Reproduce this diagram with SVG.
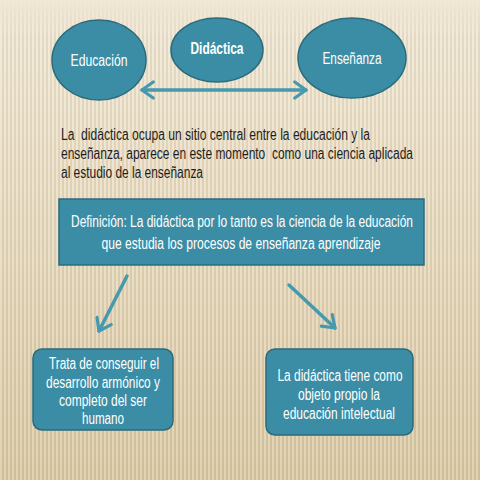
<svg xmlns="http://www.w3.org/2000/svg" width="480" height="480" viewBox="0 0 480 480">
<defs>
<linearGradient id="bg" x1="0" y1="0" x2="0" y2="1">
<stop offset="0" stop-color="#f0e7d5"/>
<stop offset="0.4" stop-color="#e8dbc0"/>
<stop offset="1" stop-color="#d8c6a0"/>
</linearGradient>
<pattern id="stripes" width="4" height="480" patternUnits="userSpaceOnUse">
<rect x="0" y="0" width="2" height="480" fill="#fff" opacity="0.22"/>
<rect x="2" y="0" width="2" height="480" fill="#8a7450" opacity="0.1"/>
</pattern>
<linearGradient id="fade" x1="0" y1="0" x2="0" y2="1">
<stop offset="0" stop-color="#fff" stop-opacity="0"/>
<stop offset="0.08" stop-color="#fff" stop-opacity="1"/>
<stop offset="1" stop-color="#fff" stop-opacity="1"/>
</linearGradient>
<mask id="m"><rect width="480" height="480" fill="url(#fade)"/></mask>
<marker id="head" viewBox="0 0 12 12" refX="9" refY="6" markerWidth="5.5" markerHeight="5.5" orient="auto-start-reverse" markerUnits="strokeWidth">
<path d="M2,1 L9,6 L2,11" fill="none" stroke="#4799ad" stroke-width="2" stroke-linecap="round" stroke-linejoin="round"/>
</marker>
<style>
.node{fill:#3b8da5;stroke:#2b6b7c;stroke-width:1.5}
.t{font-family:"Liberation Sans",Arial,sans-serif;fill:#fff;text-anchor:middle;font-size:16px}
.p{font-family:"Liberation Sans",Arial,sans-serif;fill:#1e1e1e;font-size:16px}
.conn{stroke:#4799ad;stroke-width:3.5;fill:none;stroke-linecap:round}
</style>
</defs>
<rect width="480" height="480" fill="url(#bg)"/>
<rect width="480" height="480" fill="url(#stripes)" mask="url(#m)"/>

<g id="connectors">
<line class="conn" x1="142" y1="90" x2="306" y2="90" marker-start="url(#head)" marker-end="url(#head)"/>
<line class="conn" x1="127" y1="276" x2="99" y2="331" marker-end="url(#head)"/>
<line class="conn" x1="289" y1="285" x2="335" y2="328" marker-end="url(#head)"/>
</g>

<g id="educacion">
<ellipse class="node" cx="99" cy="60" rx="47" ry="40"/>
<text class="t" x="99" y="66" textLength="57" lengthAdjust="spacingAndGlyphs">Educación</text>
</g>
<g id="didactica">
<ellipse class="node" cx="217" cy="50" rx="46" ry="32"/>
<text class="t" x="217" y="54" font-weight="bold" textLength="53" lengthAdjust="spacingAndGlyphs">Didáctica</text>
</g>
<g id="ensenanza">
<ellipse class="node" cx="352" cy="58" rx="54" ry="40"/>
<text class="t" x="352" y="64" textLength="59" lengthAdjust="spacingAndGlyphs">Enseñanza</text>
</g>

<g id="parrafo">
<text class="p" x="61" y="140" xml:space="preserve" textLength="309" lengthAdjust="spacingAndGlyphs">La  didáctica ocupa un sitio central entre la educación y la</text>
<text class="p" x="61" y="159" xml:space="preserve" textLength="352" lengthAdjust="spacingAndGlyphs">enseñanza, aparece en este momento  como una ciencia aplicada</text>
<text class="p" x="61" y="178" textLength="142" lengthAdjust="spacingAndGlyphs">al estudio de la enseñanza</text>
</g>

<g id="definicion">
<rect class="node" x="59" y="199" width="365" height="66"/>
<text class="t" x="242" y="227" textLength="342" lengthAdjust="spacingAndGlyphs">Definición: La didáctica por lo tanto es la ciencia de la educación</text>
<text class="t" x="241" y="249" textLength="279" lengthAdjust="spacingAndGlyphs">que estudia los procesos de enseñanza aprendizaje</text>
</g>

<g id="trata">
<rect class="node" x="33" y="349" width="140" height="81" rx="9"/>
<text class="t" x="104" y="369" textLength="110" lengthAdjust="spacingAndGlyphs">Trata de conseguir el</text>
<text class="t" x="103" y="388" textLength="114" lengthAdjust="spacingAndGlyphs">desarrollo armónico y</text>
<text class="t" x="103" y="406" textLength="88" lengthAdjust="spacingAndGlyphs">completo del ser</text>
<text class="t" x="103" y="424" textLength="42" lengthAdjust="spacingAndGlyphs">humano</text>
</g>

<g id="objeto">
<rect class="node" x="266" y="349" width="147" height="86" rx="9"/>
<text class="t" x="340" y="381" textLength="125" lengthAdjust="spacingAndGlyphs">La didáctica tiene como</text>
<text class="t" x="339" y="400" textLength="82" lengthAdjust="spacingAndGlyphs">objeto propio la</text>
<text class="t" x="339" y="419" textLength="112" lengthAdjust="spacingAndGlyphs">educación intelectual</text>
</g>
</svg>
